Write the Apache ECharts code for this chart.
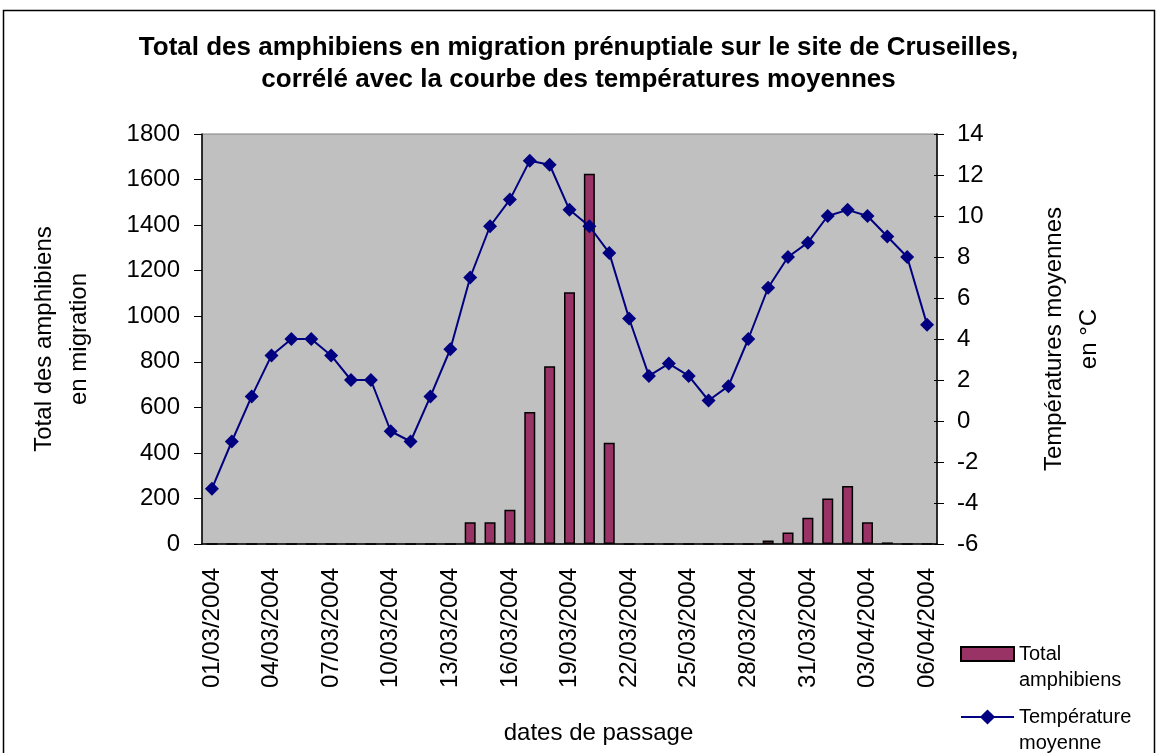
<!DOCTYPE html>
<html>
<head>
<meta charset="utf-8">
<title>Amphibiens Cruseilles</title>
<script src="https://cdn.jsdelivr.net/npm/echarts@6/dist/echarts.min.js"></script>
<style>
  html, body { margin: 0; padding: 0; background: #fff; }
  #main { width: 1157px; height: 753px; }
</style>
</head>
<body>
<div id="main"></div>
<script>
// dates de passage (01/03/2004 -> 06/04/2004)
var dates = [
    '01/03/2004', '02/03/2004', '03/03/2004', '04/03/2004', '05/03/2004', '06/03/2004',
    '07/03/2004', '08/03/2004', '09/03/2004', '10/03/2004', '11/03/2004', '12/03/2004',
    '13/03/2004', '14/03/2004', '15/03/2004', '16/03/2004', '17/03/2004', '18/03/2004',
    '19/03/2004', '20/03/2004', '21/03/2004', '22/03/2004', '23/03/2004', '24/03/2004',
    '25/03/2004', '26/03/2004', '27/03/2004', '28/03/2004', '29/03/2004', '30/03/2004',
    '31/03/2004', '01/04/2004', '02/04/2004', '03/04/2004', '04/04/2004', '05/04/2004',
    '06/04/2004'
];
// total amphibiens
var amphibiens = [
    0, 0, 0, 0, 0, 0, 0, 0, 0, 0, 0, 0, 0,
    95, 95, 150, 580, 780, 1105, 1625, 445,
    0, 0, 0, 0, 0, 0, 0,
    15, 50, 115, 200, 255, 95, 7, 0, 0
];
// température moyenne (°C)
var temperatures = [
    -3.3, -1, 1.2, 3.2, 4, 4, 3.2, 2, 2, -0.5, -1, 1.2, 3.5,
    7, 9.5, 10.8, 12.7, 12.5, 10.3, 9.5, 8.2, 5, 2.2, 2.8, 2.2,
    1, 1.7, 4, 6.5, 8, 8.7, 10, 10.3, 10, 9, 8, 4.7
];

var police = "'Liberation Sans', Arial, sans-serif";
var chart = echarts.init(document.getElementById('main'));

var option = {
    animation: false,
    textStyle: { fontFamily: police, color: '#000' },
    title: {
        text: 'Total des amphibiens en migration prénuptiale sur le site de Cruseilles,\ncorrélé avec la courbe des températures moyennes',
        left: 'center',
        top: 27,
        textStyle: { fontFamily: police, fontSize: 26, fontWeight: 'bold', lineHeight: 32, color: '#000' }
    },
    graphic: [{
        type: 'rect',
        shape: { x: 3.5, y: 10.5, width: 1151, height: 760 },
        style: { fill: 'none', stroke: '#000', lineWidth: 1.5 },
        silent: true
    }],
    legend: [{
        data: [{ name: 'Total amphibiens', icon: 'rect' }],
        orient: 'vertical',
        left: 960,
        top: 615,
        padding: 0,
        itemWidth: 53,
        itemHeight: 14,
        formatter: function () { return ' \nTotal\namphibiens'; },
        textStyle: { fontFamily: police, fontSize: 20, lineHeight: 26, color: '#000' }
    }, {
        data: ['Température moyenne'],
        orient: 'vertical',
        left: 960,
        top: 678,
        padding: 0,
        itemWidth: 53,
        itemHeight: 19,
        formatter: function () { return ' \nTempérature\nmoyenne'; },
        textStyle: { fontFamily: police, fontSize: 20, lineHeight: 26, color: '#000' }
    }],
    grid: {
        left: 202,
        right: 220,
        top: 134,
        bottom: 209,
        show: true,
        backgroundColor: '#C0C0C0',
        borderColor: '#808080',
        borderWidth: 1
    },
    xAxis: [{
        type: 'category',
        data: dates,
        position: 'bottom',
        name: 'dates de passage',
        nameLocation: 'middle',
        nameGap: 177,
        nameTextStyle: { fontFamily: police, fontSize: 24, color: '#000', padding: [0, 0, 0, 58] },
        axisLine: { lineStyle: { color: '#000', width: 1.5 } },
        axisTick: { interval: 0, length: 8, lineStyle: { color: '#000' } },
        axisLabel: { interval: 2, rotate: 90, margin: 24, fontFamily: police, fontSize: 24, color: '#000' },
        splitLine: { show: false }
    }, {
        type: 'category',
        data: dates,
        position: 'bottom',
        axisLine: { show: false },
        axisTick: { interval: 0, inside: true, length: 7, lineStyle: { color: '#000' } },
        axisLabel: { show: false },
        splitLine: { show: false }
    }],
    yAxis: [{
        type: 'value',
        position: 'left',
        min: 0,
        max: 1800,
        interval: 200,
        name: 'Total des amphibiens\nen migration',
        nameLocation: 'middle',
        nameRotate: 90,
        nameGap: 105,
        nameTextStyle: { fontFamily: police, fontSize: 24, lineHeight: 35, color: '#000' },
        axisLine: { show: true, lineStyle: { color: '#000', width: 1.5 } },
        axisTick: { show: true, length: 8, lineStyle: { color: '#000' } },
        axisLabel: {
            margin: 22, fontFamily: police, fontSize: 24, color: '#000',
            formatter: function (v) { return String(v); }
        },
        splitLine: { show: false }
    }, {
        type: 'value',
        position: 'right',
        min: -6,
        max: 14,
        interval: 2,
        name: 'Températures moyennes\nen °C',
        nameLocation: 'middle',
        nameRotate: 90,
        nameGap: 100,
        nameTextStyle: { fontFamily: police, fontSize: 24, lineHeight: 35, color: '#000' },
        axisLine: { show: true, lineStyle: { color: '#000', width: 1.5 } },
        axisTick: { show: true, length: 7, lineStyle: { color: '#000' } },
        axisLabel: {
            margin: 20, fontFamily: police, fontSize: 24, color: '#000',
            formatter: function (v) { return String(v); }
        },
        splitLine: { show: false }
    }, {
        type: 'value',
        position: 'right',
        min: -6,
        max: 14,
        interval: 2,
        axisLine: { show: false },
        axisTick: { show: true, inside: true, length: 3, lineStyle: { color: '#000' } },
        axisLabel: { show: false },
        splitLine: { show: false }
    }],
    series: [{
        name: 'Total amphibiens',
        type: 'bar',
        xAxisIndex: 0,
        yAxisIndex: 0,
        data: amphibiens,
        barWidth: 11,
        itemStyle: { color: '#993366', borderColor: '#000', borderWidth: 1.5 }
    }, {
        name: 'Température moyenne',
        type: 'line',
        xAxisIndex: 0,
        yAxisIndex: 1,
        data: temperatures,
        symbol: 'diamond',
        symbolSize: 14,
        showAllSymbol: true,
        lineStyle: { color: '#000080', width: 2 },
        itemStyle: { color: '#000080' }
    }]
};

chart.setOption(option);
</script>
</body>
</html>
